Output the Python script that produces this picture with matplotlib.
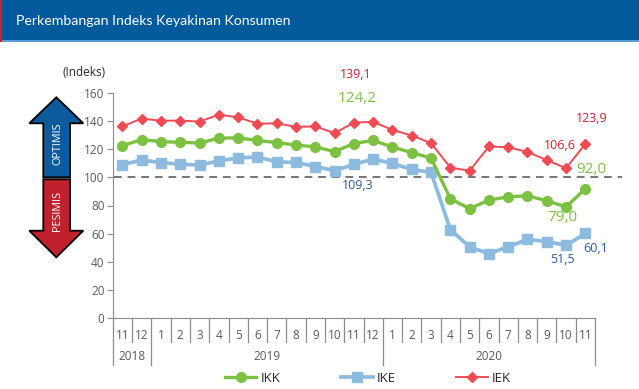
import matplotlib
matplotlib.use("Agg")
import matplotlib.pyplot as plt
from matplotlib.patches import Polygon, Rectangle

plt.rcParams['font.family'] = ['Open Sans', 'DejaVu Sans']

# ---- data ----
months = ['11', '12', '1', '2', '3', '4', '5', '6', '7', '8', '9', '10', '11', '12',
          '1', '2', '3', '4', '5', '6', '7', '8', '9', '10', '11']
years = ['2018', '2018', '2019', '2019', '2019', '2019', '2019', '2019', '2019', '2019',
         '2019', '2019', '2019', '2019', '2020', '2020', '2020', '2020', '2020', '2020',
         '2020', '2020', '2020', '2020', '2020']
ikk = [122.7, 127.0, 125.5, 125.1, 124.5, 128.1, 128.2, 126.4, 124.8, 123.1, 121.8, 118.4,
       124.2, 126.4, 121.7, 117.7, 113.8, 84.8, 77.8, 83.8, 86.2, 86.9, 83.4, 79.0, 92.0]
ike = [109.2, 112.3, 110.6, 109.4, 108.8, 111.8, 113.9, 114.6, 111.1, 110.7, 107.8, 104.8,
       109.3, 113.1, 110.0, 105.7, 103.6, 62.8, 50.5, 45.6, 50.6, 55.8, 54.3, 51.5, 60.1]
iek = [136.4, 142.0, 140.4, 140.6, 139.8, 144.8, 142.9, 138.3, 138.6, 136.1, 136.4, 131.6,
       139.1, 139.6, 133.9, 129.9, 124.5, 107.0, 104.8, 122.1, 121.5, 118.2, 112.4, 106.6, 123.9]
yticks = [0, 20, 40, 60, 80, 100, 120, 140, 160]
title = "Perkembangan Indeks Keyakinan Konsumen"

C_IKK = '#7DC143'
C_IKE = '#8DBBE0'
C_IEK = '#EE4B55'
GRAY = '#595959'

W, H = 639, 389
fig = plt.figure(figsize=(W / 100, H / 100), dpi=100)

# background / decoration axes in pixel coordinates
bg = fig.add_axes([0, 0, 1, 1], zorder=0)
bg.set_xlim(0, W)
bg.set_ylim(H, 0)
bg.axis('off')
bg.add_patch(Rectangle((0, 0), W, 40, facecolor='#005A9C', edgecolor='none'))
bg.add_patch(Rectangle((0, 40), W, 1.6, facecolor='#5B9BD5', edgecolor='none'))
bg.add_patch(Rectangle((0, 0), 1.5, 41.6, facecolor='#C0282F', edgecolor='none'))
bg.text(16, 21, title, color='white', fontsize=10.2, va='center', ha='left',
        family=['Lato', 'DejaVu Sans'])

# arrows
up = [(56.3, 97.3), (83.3, 123.3), (70, 123.3), (70, 177.3), (43.3, 177.3), (43.3, 123.3), (29.3, 123.3)]
dn = [(43.3, 179.3), (70, 179.3), (70, 230.7), (83.3, 230.7), (56.3, 257.3), (29.3, 230.7), (43.3, 230.7)]
bg.add_patch(Polygon(up, closed=True, facecolor='#0D5A9E', edgecolor='black', lw=1.3, joinstyle='miter'))
bg.add_patch(Polygon(dn, closed=True, facecolor='#C1202D', edgecolor='black', lw=1.3, joinstyle='miter'))
bg.text(57.5, 144, 'OPTIMIS', color='white', fontsize=7.8, rotation=90, ha='center', va='center')
bg.text(57.5, 210.5, 'PESIMIS', color='white', fontsize=7.8, rotation=90, ha='center', va='center')
bg.text(84.5, 72.5, '(Indeks)', color='#262626', fontsize=8.5, ha='center', va='center')
# dashed reference line at 100 (extends past the category axis)
y100 = 317.7 - 100 * (224.4 / 160)
bg.plot([114, 622], [y100, y100], color='#767676', lw=1.4, ls=(0, (4, 3)), zorder=1)

# main axes
left, right, top, bottom = 112.8, 595, 93.3, 317.7
ax = fig.add_axes([left / W, 1 - bottom / H, (right - left) / W, (bottom - top) / H], zorder=2)
ax.patch.set_alpha(0)
n = len(months)
x = list(range(n))
ax.set_xlim(-0.5, n - 0.5)
ax.set_ylim(0, 160)
for s in ['top', 'right']:
    ax.spines[s].set_visible(False)
ax.spines['left'].set_color('#8C8C8C')
ax.spines['bottom'].set_color('#8C8C8C')
ax.set_yticks(yticks)
ax.set_yticklabels([str(v) for v in yticks])
ax.tick_params(axis='y', colors='#8C8C8C', labelcolor=GRAY, labelsize=8.5, length=4, pad=2)
ax.set_xticks(x)
ax.set_xticklabels(months)
ax.tick_params(axis='x', length=0, labelcolor=GRAY, labelsize=8.5, pad=8)

# category separators
tr = ax.get_xaxis_transform()
for k in range(n + 1):
    is_year = (k == 0 or k == n or years[k] != years[k - 1])
    y1 = -0.211 if is_year else -0.108
    ax.plot([k - 0.5, k - 0.5], [0, y1], transform=tr, color='#8C8C8C', lw=0.9, clip_on=False)
# year labels
start = 0
for k in range(1, n + 1):
    if k == n or years[k] != years[start]:
        ax.text((start + k - 1) / 2, -0.171, years[start], transform=tr, ha='center', va='center',
                fontsize=8.5, color=GRAY)
        start = k

l1, = ax.plot(x, ikk, color=C_IKK, lw=2.4, marker='o', ms=7, zorder=4, label='IKK')
l2, = ax.plot(x, ike, color=C_IKE, lw=2.7, marker='s', ms=6.5, zorder=3, label='IKE')
l3, = ax.plot(x, iek, color=C_IEK, lw=1.4, marker='D', ms=5.5, zorder=5, label='IEK')

def lab(i, vals, dx, dy, color, size):
    ax.annotate(f"{vals[i]:.1f}".replace('.', ','), xy=(i, vals[i]), xytext=(dx, dy),
                textcoords='offset points', ha='center', va='center', color=color,
                fontsize=size, annotation_clip=False)

RED_T = '#D0202E'
BLU_T = '#2F5C9A'
lab(12, iek, 1.4, 35, RED_T, 9)
lab(12, ikk, 2.2, 32.5, C_IKK, 11)
lab(12, ike, 3, -15, BLU_T, 9)
lab(24, iek, 4.4, 18.4, RED_T, 9)
lab(23, iek, -4.5, 16, RED_T, 9)
lab(24, ikk, 4.4, 13.5, C_IKK, 11)
lab(23, ikk, -2.6, -7.6, C_IKK, 11)
lab(23, ike, -2.6, -10, BLU_T, 9)
lab(24, ike, 7.5, -10.8, BLU_T, 9)

fig.legend(handles=[l1, l2, l3], labels=['IKK', 'IKE', 'IEK'], loc='center',
           bbox_to_anchor=(368 / W, 1 - 378 / H), ncol=3, frameon=False, fontsize=9.5,
           handlelength=2.4, handletextpad=0.3, columnspacing=4.6, labelcolor='#262626')

fig.savefig('out.png', dpi=100)
